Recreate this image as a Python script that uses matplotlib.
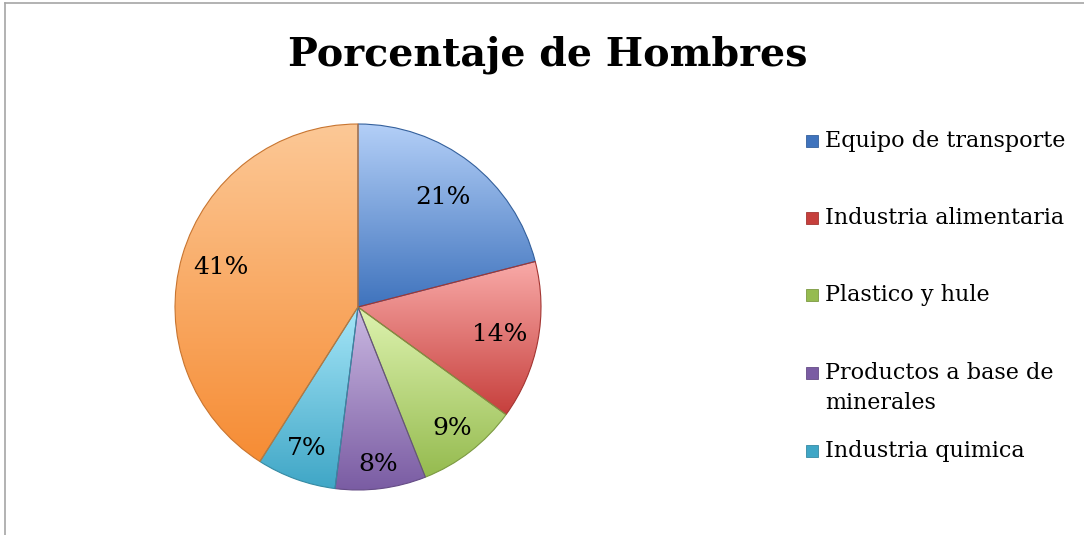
import numpy as np
import matplotlib.pyplot as plt
from matplotlib.colors import to_rgb
from matplotlib.patches import Rectangle
from matplotlib.lines import Line2D

# data
categories = ["Equipo de transporte", "Industria alimentaria", "Plastico y hule",
              "Productos a base de\nminerales", "Industria quimica", "Otros"]
values = [21, 14, 9, 8, 7, 41]
shown_in_legend = 5  # the last entry is cut off in the original legend

# gradient colors per slice (top, bottom)
top_colors = ["#b3cff7", "#f9aaa8", "#def3b0", "#cbb9e2", "#a6e6f8", "#fcc896"]
bottom_colors = ["#3f73bd", "#c63f3c", "#95bb4f", "#7a5ca3", "#3fa6c6", "#f68c34"]
edge_colors = ["#34609c", "#a33532", "#7c9a42", "#654c86", "#358aa3", "#c87530"]
pct_dist = [0.76, 0.79, 0.84, 0.87, 0.82, 0.78]

serif = ["DejaVu Serif"]

fig = plt.figure(figsize=(10.84, 5.35), dpi=100)
fig.patch.set_facecolor("white")

W, H = 1084, 535
cx, cy, r = 358, 307, 183
ax = fig.add_axes([(cx - r) / W, (H - cy - r) / H, 2 * r / W, 2 * r / H])

wedges, _ = ax.pie(values, startangle=90, counterclock=False, radius=1,
                   wedgeprops=dict(linewidth=0.8))
ax.axis("off")

for i, w in enumerate(wedges):
    w.set_facecolor("none")
    w.set_edgecolor(edge_colors[i])
    w.set_clip_on(False)
    ext = w.get_path().get_extents()
    c0 = np.array(to_rgb(top_colors[i]))
    c1 = np.array(to_rgb(bottom_colors[i]))
    t = np.linspace(0, 1, 200)[:, None]
    grad = (c0 * (1 - t) + c1 * t)[:, None, :]
    im = ax.imshow(grad, extent=[ext.x0, ext.x1, ext.y0, ext.y1], origin="upper",
                   aspect="auto", zorder=0.5, interpolation="bilinear")
    im.set_clip_path(w)
    w.set_zorder(1)

# percentage labels
start = 90.0
for i, v in enumerate(values):
    ang = np.deg2rad(start - v * 360 / 100 / 2)
    start -= v * 360 / 100
    d = pct_dist[i]
    ax.text(d * np.cos(ang), d * np.sin(ang), f"{v}%", ha="center", va="center",
            fontsize=18, family=serif, color="black", zorder=3)
ax.set_xlim(-1, 1)
ax.set_ylim(-1, 1)

# title
fig.text(548 / W, 1 - 55 / H, "Porcentaje de Hombres", ha="center", va="center",
         fontsize=28.5, fontweight="bold", family=serif)

# legend (manual, markers align with the first line as in the original)
leg_y = [141, 218, 295, 373, 451]
for i in range(shown_in_legend):
    y = leg_y[i]
    fig.patches.append(Rectangle((806 / W, 1 - (y + 6) / H), 12 / W, 12 / H,
                                 transform=fig.transFigure, facecolor=bottom_colors[i],
                                 edgecolor=edge_colors[i], linewidth=0.6))
    fig.text(825 / W, 1 - (y - 11) / H, categories[i], ha="left", va="top",
             fontsize=16, family=serif, linespacing=1.45)

# chart border
fig.add_artist(Line2D([5 / W, 5 / W], [0, 1 - 3 / H], transform=fig.transFigure,
                      color="#a6a6a6", linewidth=1.2))
fig.add_artist(Line2D([5 / W, 1], [1 - 3 / H, 1 - 3 / H], transform=fig.transFigure,
                      color="#a6a6a6", linewidth=1.2))

fig.savefig("out.png", dpi=100)
